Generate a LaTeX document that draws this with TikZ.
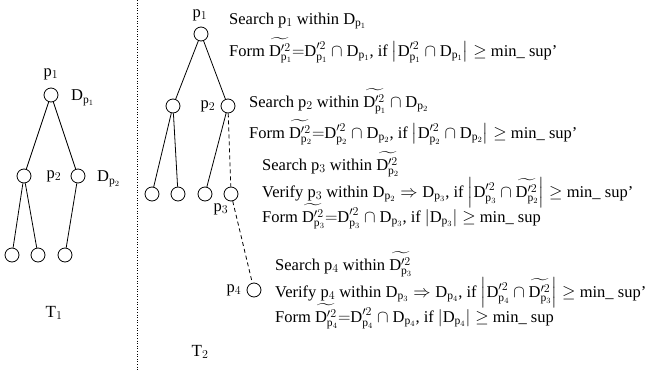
\documentclass[tikz,border=0pt]{standalone}
\usepackage{amsmath}
\usepackage{fontspec}
\setmainfont{Liberation Serif}
\newcommand\Dp[1]{\mathrm{D}_{\mathrm{p}_{#1}}}
\newcommand\Dq[1]{\mathrm{D}^{\prime 2}_{\mathrm{p}_{#1}}}
\newcommand\Dt[1]{\widetilde{\Dq{#1}}}
\newcommand\pp[1]{p$_{#1}$}
\begin{document}
\begin{tikzpicture}[x=1pt,y=-1pt,
  vtx/.style={circle,draw,minimum size=14pt,inner sep=0pt,line width=0.8pt},
  edge/.style={line width=0.8pt},
  dedge/.style={line width=0.8pt,dashed,dash pattern=on 4pt off 3pt},
  lbl/.style={inner sep=0pt,font=\fontsize{16.5}{19}\selectfont},
  txt/.style={anchor=base west,inner sep=0pt,font=\fontsize{16.5}{19}\selectfont}]
\useasboundingbox (0,0) rectangle (657,370);
% separator
\coordinate (s1) at (137,0);
\coordinate (s2) at (137,370);
\draw[dotted,line width=0.6pt] (s1) -- (s2);
% ---------- T1 ----------
\node[vtx] (a) at (51,95) {};
\node[vtx] (b) at (24,176) {};
\node[vtx] (c) at (78,176) {};
\node[vtx] (d) at (12,255) {};
\node[vtx] (e) at (38,255) {};
\node[vtx] (f) at (65,255) {};
\draw[edge] (a) -- (b);
\draw[edge] (a) -- (c);
\draw[edge] (b) -- (d);
\draw[edge] (b) -- (e);
\draw[edge] (c) -- (f);
\node[lbl] (ap) at (51,74) {p$_1$};
\node[lbl,anchor=west] (ad) at (71,98) {$\Dp1$};
\node[lbl] (cp) at (54,176) {p$_2$};
\node[lbl,anchor=west] (cd) at (97,179) {$\Dp2$};
\node[lbl,font=\fontsize{17}{20}\selectfont] (t1) at (54,313) {T$_1$};
% ---------- T2 ----------
\node[vtx] (A) at (201,34) {};
\node[vtx] (B) at (173,106) {};
\node[vtx] (C) at (228,106) {};
\node[vtx] (D) at (152,194) {};
\node[vtx] (E) at (178,194) {};
\node[vtx] (F) at (205,194) {};
\node[vtx] (G) at (231,194) {};
\node[vtx] (H) at (254,290) {};
\draw[edge] (A) -- (B);
\draw[edge] (A) -- (C);
\draw[edge] (B) -- (D);
\draw[edge] (B) -- (E);
\draw[edge] (C) -- (F);
\draw[dedge] (C) -- (G);
\draw[dedge] (G) -- (H);
\node[lbl] (Ap) at (200,15) {p$_1$};
\node[lbl] (Cp) at (208,106) {p$_2$};
\node[lbl] (Gp) at (221,209) {p$_3$};
\node[lbl] (Hp) at (234,290) {p$_4$};
\node[lbl,font=\fontsize{17}{20}\selectfont] (t2) at (200,352) {T$_2$};
% ---------- text ----------
\node[txt] (l1) at (229,24) {Search \pp1 within $\Dp1$};
\node[txt] (l2) at (229,56) {Form $\Dt1{=}\Dq1\cap\Dp1$, if $\left|\Dq1\cap\Dp1\right|\geq$ min\_ sup'};
\node[txt] (l3) at (249,107) {Search \pp2 within $\Dt1\cap\Dp2$};
\node[txt] (l4) at (249,138) {Form $\Dt2{=}\Dq2\cap\Dp2$, if $\left|\Dq2\cap\Dp2\right|\geq$ min\_ sup'};
\node[txt] (l5) at (262,170) {Search \pp3 within $\Dt2$};
\node[txt] (l6) at (262,197) {Verify \pp3 within $\Dp2\Rightarrow\Dp3$, if $\left|\Dq3\cap\Dt2\right|\geq$ min\_ sup'};
\node[txt] (l7) at (262,222) {Form $\Dt3{=}\Dq3\cap\Dp3$, if $\left|\Dp3\right|\geq$ min\_ sup};
\node[txt] (l8) at (275,270) {Search \pp4 within $\Dt3$};
\node[txt] (l9) at (275,297) {Verify \pp4 within $\Dp3\Rightarrow\Dp4$, if $\left|\Dq4\cap\Dt3\right|\geq$ min\_ sup'};
\node[txt] (l10) at (275,322) {Form $\Dt4{=}\Dq4\cap\Dp4$, if $\left|\Dp4\right|\geq$ min\_ sup};
\end{tikzpicture}
\end{document}
